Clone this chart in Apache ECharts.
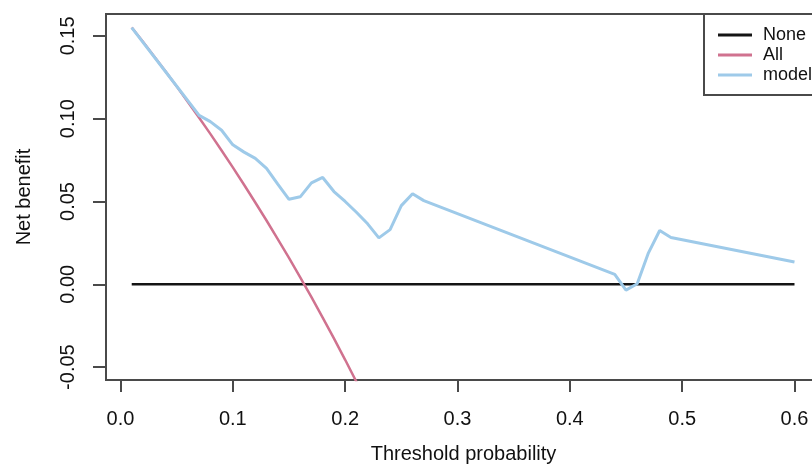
<!DOCTYPE html>
<html>
<head>
<meta charset="utf-8">
<script src="https://cdn.jsdelivr.net/npm/echarts@6/dist/echarts.min.js"></script>
<style>
  html, body { margin: 0; padding: 0; background: #fff; overflow: hidden; }
  #chart { width: 830px; height: 464px; }
</style>
</head>
<body>
<div id="chart"></div>
<script>
// tick labels
var xTicks = [0, 0.1, 0.2, 0.3, 0.4, 0.5, 0.6]
var yTicks = [-0.05, 0, 0.05, 0.10, 0.15]

// treat none
var noneThreshold = [0.01, 0.60]
var noneBenefit = [0, 0]

// treat all
var allThreshold = [0.01, 0.02, 0.03, 0.04, 0.05, 0.06, 0.07, 0.08, 0.09, 0.10, 0.11,
  0.12, 0.13, 0.14, 0.15, 0.16, 0.17, 0.18, 0.19, 0.20, 0.21, 0.22]
var allBenefit = [0.1551, 0.1464, 0.1376, 0.1287, 0.1195, 0.1101, 0.1005, 0.0908, 0.0808,
  0.0706, 0.0601, 0.0494, 0.0385, 0.0273, 0.0159, 0.0042, -0.0078, -0.0201, -0.0327,
  -0.0456, -0.0589, -0.0724]

// model
var modelThreshold = [0.01, 0.04, 0.07, 0.08, 0.09, 0.10, 0.11, 0.12, 0.13, 0.14, 0.15,
  0.16, 0.17, 0.18, 0.19, 0.20, 0.21, 0.22, 0.23, 0.24, 0.25, 0.26, 0.27, 0.44, 0.45,
  0.46, 0.47, 0.48, 0.49, 0.60]
var modelBenefit = [0.155, 0.1285, 0.1020, 0.0982, 0.0930, 0.0842, 0.0798, 0.0760, 0.0700,
  0.0605, 0.0513, 0.0528, 0.0612, 0.0645, 0.0560, 0.0500, 0.0435, 0.0365, 0.0280, 0.0330,
  0.0475, 0.0547, 0.0505, 0.0060, -0.0035, 0.0003, 0.0190, 0.0325, 0.0283, 0.0134]

function pairs (xs, ys) {
  return xs.map(function (x, i) { return [x, ys[i]] })
}

var font = '"Liberation Sans", Arial, Helvetica, sans-serif'
var boxColor = '#4a4a4a'

var myChart = echarts.init(document.getElementById('chart'))
myChart.setOption({
  animation: false,
  backgroundColor: '#fff',
  textStyle: { fontFamily: font },
  grid: {
    show: true, left: 106, top: 14, width: 715, height: 366,
    outerBoundsMode: 'none', containLabel: false,
    borderColor: boxColor, borderWidth: 2
  },
  legend: {
    orient: 'vertical', left: 704, top: 14,
    padding: [11, 12, 10, 14], itemGap: 0,
    icon: 'rect', itemWidth: 34, itemHeight: 3,
    borderColor: boxColor, borderWidth: 2, borderRadius: 0,
    backgroundColor: '#fff',
    textStyle: { fontSize: 18, lineHeight: 20, color: '#111', fontFamily: font, padding: [0, 0, 0, 6] },
    data: ['None', 'All', 'model']
  },
  xAxis: {
    type: 'value', min: -0.0129, max: 0.6236,
    name: 'Threshold probability', nameLocation: 'middle', nameGap: 64,
    nameTextStyle: { fontSize: 20, color: '#111', fontFamily: font },
    splitLine: { show: false },
    axisLine: { show: true, onZero: false, lineStyle: { color: boxColor, width: 2 } },
    axisTick: { show: true, length: 12, customValues: xTicks, lineStyle: { color: boxColor, width: 2 } },
    axisLabel: {
      customValues: xTicks, margin: 29, fontSize: 20, color: '#111',
      formatter: function (v) { return v.toFixed(1) }
    }
  },
  yAxis: {
    type: 'value', min: -0.0578, max: 0.1632,
    name: 'Net benefit', nameLocation: 'middle', nameGap: 72,
    nameTextStyle: { fontSize: 20, color: '#111', fontFamily: font },
    splitLine: { show: false },
    axisLine: { show: true, onZero: false, lineStyle: { color: boxColor, width: 2 } },
    axisTick: { show: true, length: 13, customValues: yTicks, lineStyle: { color: boxColor, width: 2 } },
    axisLabel: {
      customValues: yTicks, margin: 28, fontSize: 20, color: '#111', rotate: 90,
      formatter: function (v) { return v.toFixed(2) }
    }
  },
  series: [
    {
      name: 'None', type: 'line', symbol: 'none', clip: true,
      data: pairs(noneThreshold, noneBenefit),
      lineStyle: { color: '#141414', width: 2.5 }, itemStyle: { color: '#141414' }
    },
    {
      name: 'All', type: 'line', symbol: 'none', clip: true,
      data: pairs(allThreshold, allBenefit),
      lineStyle: { color: '#d0728f', width: 2.5 }, itemStyle: { color: '#d0728f' }
    },
    {
      name: 'model', type: 'line', symbol: 'none', clip: true,
      data: pairs(modelThreshold, modelBenefit),
      lineStyle: { color: '#9ecae9', width: 3 }, itemStyle: { color: '#9ecae9' }
    }
  ]
})
</script>
</body>
</html>
